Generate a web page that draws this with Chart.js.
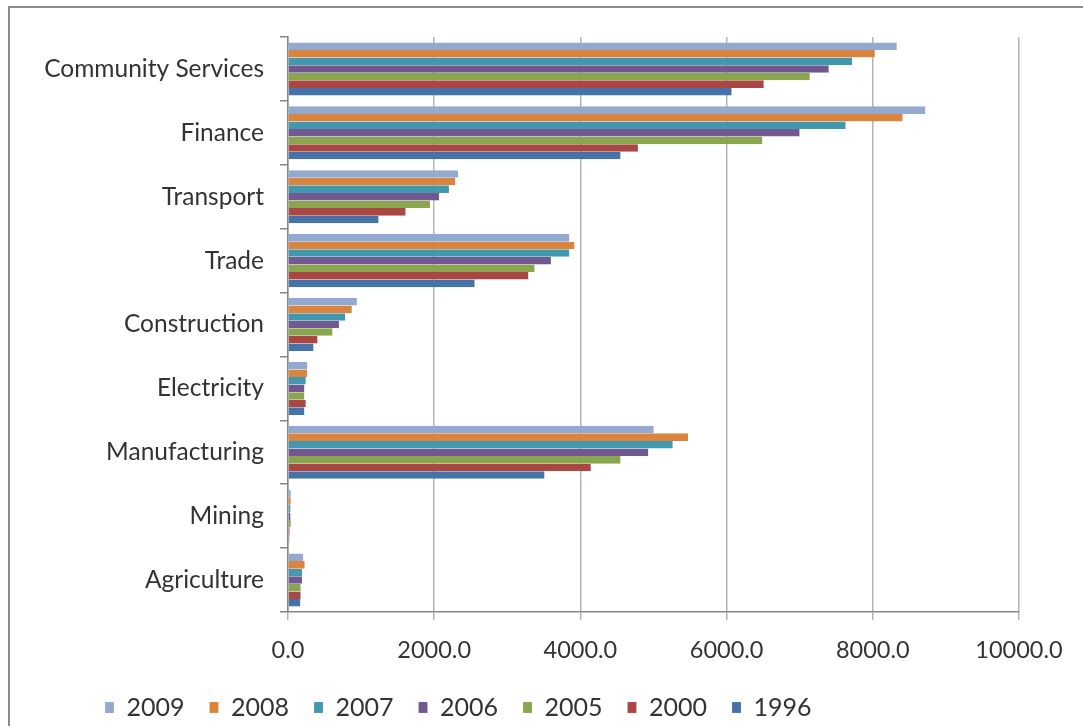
<!DOCTYPE html>
<html>
<head>
<meta charset="utf-8">
<title>GDP by sector</title>
<script src="https://cdn.jsdelivr.net/npm/chart.js@4.4.1/dist/chart.umd.min.js"></script>
<style>
  html,body{margin:0;padding:0;background:#fff;overflow:hidden;width:1083px;height:726px}
  .frame{position:absolute;left:8px;top:6px;width:1400px;height:1000px;border:2px solid #8a8a8a;box-sizing:border-box}
  #sectorChart{position:absolute;left:0;top:0}
</style>
</head>
<body>
<div class="frame"></div>
<canvas id="sectorChart" width="1083" height="726"></canvas>
<script>
// ── DATA ──────────────────────────────────────────────────────────────────────
const SECTORS=['Community Services','Finance','Transport','Trade','Construction','Electricity','Manufacturing','Mining','Agriculture'];
const YEARS=['2009','2008','2007','2006','2005','2000','1996'];

const V2009=[8340,8730,2340,3860,955,275,5015,50,220];
const V2008=[8040,8420,2300,3930,885,275,5485,50,240];
const V2007=[7730,7640,2215,3860,795,255,5275,45,205];
const V2006=[7410,7010,2080,3610,710,235,4940,45,205];
const V2005=[7150,6500,1955,3385,620,235,4560,50,185];
const V2000=[6520,4800,1620,3300,415,255,4155,30,185];
const V1996=[6080,4560,1250,2565,360,235,3520,25,180];

const X_TICKS=[0,2000,4000,6000,8000,10000];

// ── STYLE ─────────────────────────────────────────────────────────────────────
const COLORS=['#93A9CF','#DB843D','#4198AF','#71588F','#89A54E','#AA4643','#4572A7'];
const TEXT='#333';
const AXIS='#868686';
const GRID='#b4b4b4';
const FONT="Lato, 'Open Sans', sans-serif";

const SERIES=[V2009,V2008,V2007,V2006,V2005,V2000,V1996];

// chart area: x 288 → 1019, y 37 → 612
const PAD_L=30, PAD_R=64;
const LEG_PAD=25;      // gap between legend entries
const LEG_X=105;       // left edge of first legend swatch
const LEG_DROP=4;      // push legend row a little lower

// legend row starts left of the plot, under the category labels
const legendInset={
  id:'legendInset',
  afterLayout(c){
    const lg=c.legend;
    if(!lg)return;
    const dx=LEG_X-(lg.left+lg.options.labels.padding);
    lg.left+=dx; lg.right+=dx;
    lg.top+=LEG_DROP; lg.bottom+=LEG_DROP;
  }
};

const el=document.getElementById('sectorChart');
new Chart(el,{
  type:'bar',
  data:{
    labels:SECTORS,
    datasets:YEARS.map((y,i)=>({
      label:y,
      data:SERIES[i],
      backgroundColor:COLORS[i],
      borderColor:'rgba(255,255,255,.55)',
      borderWidth:{right:1,top:0,bottom:0,left:0},
      borderSkipped:false,
      categoryPercentage:0.83,
      barPercentage:1
    }))
  },
  options:{
    indexAxis:'y',
    responsive:false,
    animation:false,
    devicePixelRatio:1,
    layout:{padding:{left:PAD_L,right:PAD_R,top:37,bottom:0}},
    plugins:{
      tooltip:{enabled:false},
      legend:{
        position:'bottom',
        align:'start',
        labels:{color:TEXT,font:{family:FONT,size:25},boxWidth:9,boxHeight:11,padding:LEG_PAD}
      }
    },
    scales:{
      x:{
        min:0,max:10000,
        afterBuildTicks:s=>{s.ticks=X_TICKS.map(v=>({value:v}));},
        afterFit:s=>{s.height=54;},
        grid:{color:GRID,lineWidth:1.5,tickColor:GRID,tickLength:8},
        border:{color:AXIS,width:1.5},
        ticks:{color:TEXT,font:{family:FONT,size:23.5},padding:16,maxRotation:0,callback:v=>Number(v).toFixed(1)}
      },
      y:{
        afterFit:s=>{s.width=288-PAD_L;},
        grid:{drawOnChartArea:false,drawTicks:true,tickLength:8,tickColor:AXIS,lineWidth:1.5,offset:true},
        border:{color:AXIS,width:1.5},
        ticks:{color:TEXT,font:{family:FONT,size:24.5},padding:16,autoSkip:false}
      }
    }
  },
  plugins:[legendInset]
});
</script>
</body>
</html>
